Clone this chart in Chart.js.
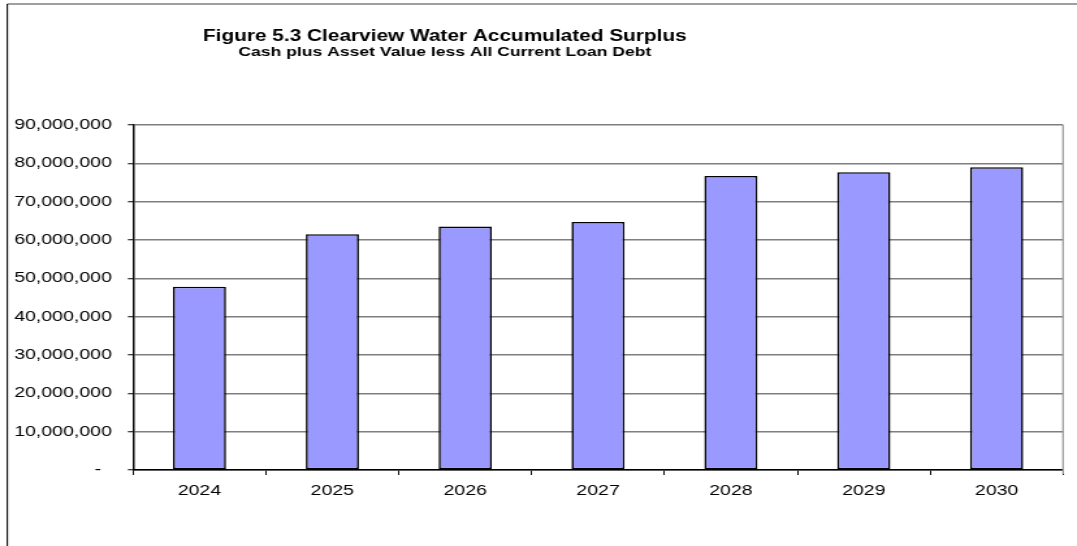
<!DOCTYPE html>
<html>
<head>
<meta charset="utf-8">
<title>Clearview Water Accumulated Surplus</title>
<script src="https://cdn.jsdelivr.net/npm/chart.js@4.4.0/dist/chart.umd.min.js"></script>
<style>
  html, body { margin: 0; padding: 0; background: #fff; overflow: hidden; }
  /* canvas is drawn narrow and stretched sideways, like the exported worksheet chart */
  #wrap { width: 828px; height: 546px; transform: scaleX(1.3007); transform-origin: 0 0; }
</style>
</head>
<body>
<div id="wrap"><canvas id="surplusChart" width="828" height="546"></canvas></div>
<script>
const years = ["2024", "2025", "2026", "2027", "2028", "2029", "2030"];
const surplus = [47800000, 61500000, 63500000, 64700000, 76700000, 77700000, 79000000];
const yMin = 0;
const yMax = 90000000;
const yStep = 10000000;

const titleText = "Figure 5.3 Clearview Water Accumulated Surplus";
const subtitleText = "Cash plus Asset Value less All Current Loan Debt";

const FONT = "Arial, 'Liberation Sans', sans-serif";
Chart.defaults.font.family = FONT;
Chart.defaults.color = "#000";

// outer frame, right edge of the plot and the two title lines
const chartFrame = {
  id: "chartFrame",
  afterDraw(chart) {
    const { ctx, chartArea: a } = chart;
    ctx.save();
    ctx.strokeStyle = "#808080";
    ctx.lineWidth = 1.6;
    ctx.beginPath();
    ctx.moveTo(5.6, 4);
    ctx.lineTo(chart.width, 4);
    ctx.stroke();

    ctx.strokeStyle = "#000";
    ctx.lineWidth = 1.1;
    ctx.beginPath();
    ctx.moveTo(5.6, 4);
    ctx.lineTo(5.6, chart.height);
    ctx.stroke();

    ctx.strokeStyle = "#9a9a9a";
    ctx.lineWidth = 1.3;
    ctx.beginPath();
    ctx.moveTo(a.right, a.top);
    ctx.lineTo(a.right, a.bottom + 4);
    ctx.stroke();

    ctx.fillStyle = "#000";
    ctx.textAlign = "center";
    ctx.textBaseline = "alphabetic";
    ctx.font = "bold 16px " + FONT;
    ctx.fillText(titleText, 342, 40.7);
    ctx.font = "bold 13.5px " + FONT;
    ctx.fillText(subtitleText, 342, 56);
    ctx.restore();
  }
};

new Chart(document.getElementById("surplusChart"), {
  type: "bar",
  data: {
    labels: years,
    datasets: [
      {
        data: surplus,
        backgroundColor: "#9999ff",
        borderColor: "#000",
        borderWidth: 1.6,
        borderSkipped: false,
        barPercentage: 0.4,
        categoryPercentage: 1.0,
      },
    ],
  },
  options: {
    responsive: false,
    animation: false,
    devicePixelRatio: 1,
    layout: { padding: { left: 0, top: 125, right: 10.7, bottom: 0 } },
    plugins: {
      legend: { display: false },
      tooltip: { enabled: false },
    },
    scales: {
      x: {
        grid: {
          offset: true,
          drawOnChartArea: false,
          tickLength: 5,
          tickColor: "#000",
          tickWidth: 1,
        },
        border: { color: "#000", width: 1.5 },
        ticks: { padding: 7, font: { size: 15 } },
        afterFit: (scale) => { scale.height = 76; },
      },
      y: {
        min: yMin,
        max: yMax,
        grid: {
          color: "#7f7f7f",
          lineWidth: 1.5,
          tickLength: 4,
          tickColor: "#000",
          tickWidth: 1,
        },
        border: { color: "#000", width: 1.5 },
        ticks: {
          stepSize: yStep,
          padding: 12.3,
          font: { size: 15 },
          callback: (v) => (v === 0 ? "-  " : v.toLocaleString("en-US")),
        },
        afterFit: (scale) => { scale.width = 102.3; },
      },
    },
  },
  plugins: [chartFrame],
});
</script>
</body>
</html>
